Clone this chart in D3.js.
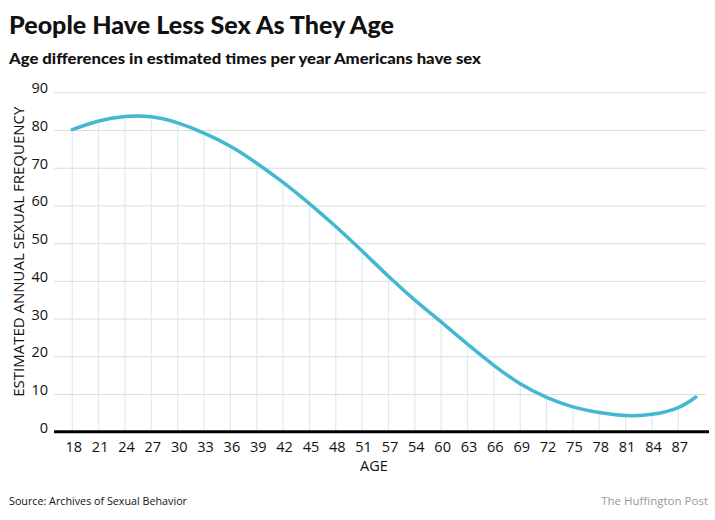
<!DOCTYPE html>
<html><head><meta charset="utf-8">
<script src="https://cdn.jsdelivr.net/npm/d3@7"></script>
<style>body{margin:0;background:#fff} svg{display:block}</style>
</head><body><svg id="c" width="715" height="520"></svg>
<script>
// ---- data ----
const ages = [18,21,24,27,30,33,36,39,42,45,48,51,54,57,60,63,66,69,72,75,78,81,84,87,89];
const freq = [80.1,82.4,83.6,83.5,81.9,79.2,75.7,71.2,66.1,60.5,54.4,47.9,41.2,34.9,29.1,23.2,17.6,12.7,9.1,6.6,5.1,4.3,4.6,6.4,9.2];
const xTickValues = [18,21,24,27,30,33,36,39,42,45,48,51,54,57,60,63,66,69,72,75,78,81,84,87];
const xTickLabels = ["18","21","24","27","30","33","36","39","42","45","48","51","57","54","60","63","66","69","72","75","78","81","84","87"];
const yTickValues = [0,10,20,30,40,50,60,70,80,90];
const titleText = "People Have Less Sex As They Age";
const subtitleText = "Age differences in estimated times per year Americans have sex";
const yLabelText = "ESTIMATED ANNUAL SEXUAL FREQUENCY";
const xLabelText = "AGE";
const sourceText = "Source: Archives of Sexual Behavior";
const creditText = "The Huffington Post";

const svg = d3.select("#c");
const data = ages.map((a,i)=>({age:a, v:freq[i]}));
const x = d3.scaleLinear().domain([18,87]).range([72.3,678.3]);
const y = d3.scaleLinear().domain([0,90]).range([431.7,92.3]);
const plotLeft = 54, plotRight = 706;

// gridlines
const yAxis = d3.axisLeft(y).tickValues(yTickValues).tickSize(-(plotRight-plotLeft)).tickFormat("");
const gy = svg.append("g").attr("transform",`translate(${plotLeft},0)`).call(yAxis);
gy.select(".domain").remove();
gy.selectAll(".tick line").attr("stroke","#dcdcdc").attr("stroke-width",1);
gy.selectAll(".tick").filter(d=>d===0).remove();

// y tick labels
svg.append("g").selectAll("text").data(yTickValues).join("text")
  .attr("x",48).attr("y",d=>y(d)+1)
  .attr("text-anchor","end")
  .attr("font-family","'Open Sans', sans-serif").attr("font-size",14.5)
  .attr("fill","#111").text(d=>d);

// drop lines
const dropData = data.filter(d=>xTickValues.includes(d.age));
svg.append("g").selectAll("line").data(dropData).join("line")
  .attr("x1",d=>x(d.age)).attr("x2",d=>x(d.age))
  .attr("y1",d=>y(d.v)).attr("y2",y(0))
  .attr("stroke","#d9ecf6").attr("stroke-width",1.2);

// x axis
const xAxis = d3.axisBottom(x).tickValues(xTickValues).tickSize(0)
  .tickFormat((d,i)=>xTickLabels[i]);
const gx = svg.append("g").attr("transform",`translate(0,${y(0)})`).call(xAxis);
gx.select(".domain").remove();
gx.selectAll(".tick text").attr("dy",0).attr("y",20).attr("x",1)
  .attr("font-family","'Open Sans', sans-serif").attr("font-size",14.5).attr("fill","#111");
svg.append("line").attr("x1",plotLeft).attr("x2",709).attr("y1",y(0)).attr("y2",y(0))
  .attr("stroke","#000").attr("stroke-width",3);

// line
const line = d3.line().x(d=>x(d.age)).y(d=>y(d.v)).curve(d3.curveNatural);
svg.append("path").datum(data).attr("d",line).attr("fill","none")
  .attr("stroke","#44b8d1").attr("stroke-width",3.5).attr("stroke-linecap","round");

// texts
svg.append("text").attr("x",9).attr("y",34.3).attr("font-family","Lato, sans-serif")
  .attr("font-weight",900).attr("font-size",24).attr("fill","#111")
  .attr("textLength",385).attr("lengthAdjust","spacingAndGlyphs").text(titleText);
svg.append("text").attr("x",9).attr("y",64).attr("font-family","Lato, sans-serif")
  .attr("font-weight",900).attr("font-size",14.5).attr("fill","#111")
  .attr("textLength",472).attr("lengthAdjust","spacingAndGlyphs").text(subtitleText);
svg.append("text").attr("transform","translate(23.5,251.7) rotate(-90)")
  .attr("text-anchor","middle").attr("font-family","'Open Sans', sans-serif")
  .attr("font-size",15).attr("fill","#111")
  .attr("textLength",290).attr("lengthAdjust","spacingAndGlyphs").text(yLabelText);
svg.append("text").attr("x",374).attr("y",471).attr("text-anchor","middle")
  .attr("font-family","'Open Sans', sans-serif").attr("font-size",14.5).attr("fill","#111").text(xLabelText);
svg.append("text").attr("x",9).attr("y",505).attr("font-family","'Open Sans', sans-serif")
  .attr("font-size",11.5).attr("fill","#111")
  .attr("textLength",178).attr("lengthAdjust","spacingAndGlyphs").text(sourceText);
svg.append("text").attr("x",708).attr("y",505).attr("text-anchor","end").attr("font-family","'Open Sans', sans-serif")
  .attr("font-size",11.5).attr("fill","#999").text(creditText);
</script></body></html>
